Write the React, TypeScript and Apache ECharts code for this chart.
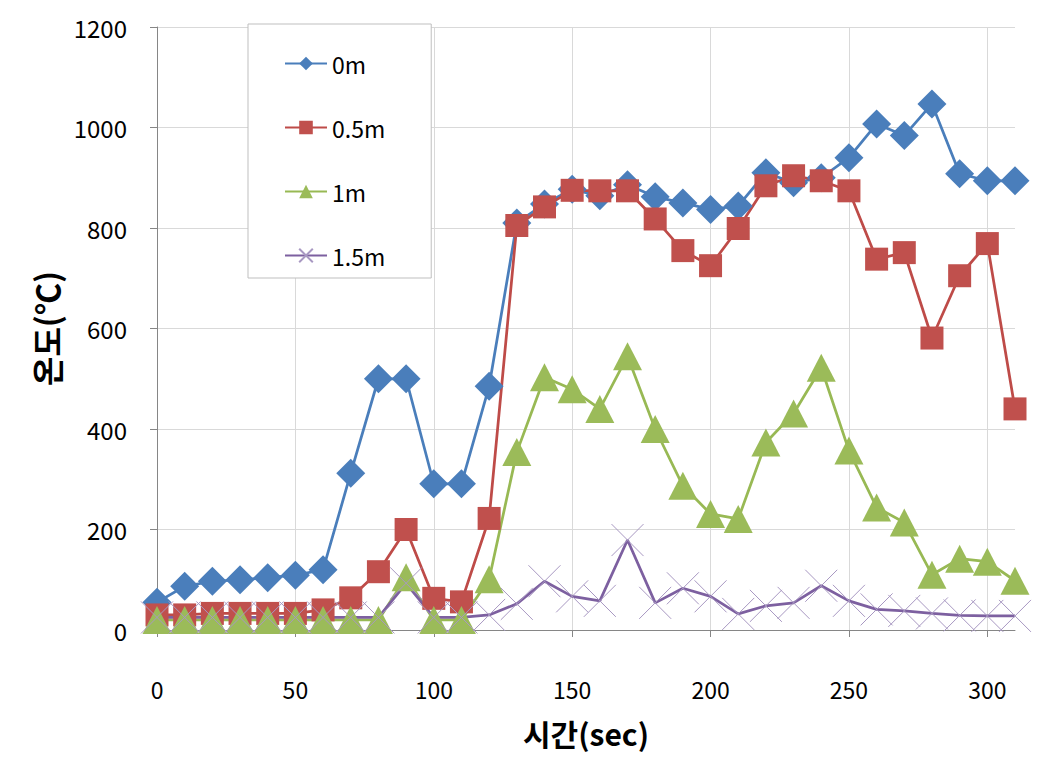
import React, { useEffect, useRef } from "react";
import * as echarts from "echarts";

const times = [0,10,20,30,40,50,60,70,80,90,100,110,120,130,140,150,160,170,180,190,200,210,220,230,240,250,260,270,280,290,300,310];
const s0m = [55,87,97,100,104,109,120,312,500,500,291,291,485,810,848,877,864,886,862,850,837,844,910,890,900,940,1007,984,1047,908,894,894];
const s05m = [30,30,33,33,33,33,40,64,116,200,63,56,222,805,842,875,874,874,818,755,725,799,884,904,894,874,738,751,581,705,769,440];
const s1m = [20,20,20,20,20,20,20,20,20,105,20,20,101,354,503,479,440,545,400,287,231,221,373,431,522,357,244,214,110,142,136,98];
const s15m = [25,25,25,25,25,25,25,25,25,93,25,25,30,52,97,67,58,179,54,83,67,32,48,54,88,58,41,38,33,29,28,28];
const seriesNames = ["0m", "0.5m", "1m", "1.5m"];
const xTicks = [0,50,100,150,200,250,300];

const FONT = "'Noto Sans CJK KR', 'Noto Sans', sans-serif";

export default function App() {
  const ref = useRef<HTMLDivElement>(null);
  useEffect(() => {
    if (!ref.current) return;
    const chart = echarts.init(ref.current, null, { renderer: "svg" });
    const pair = (arr: number[]) => times.map((t, i) => [t, arr[i]]);
    chart.setOption({
      animation: false,
      backgroundColor: "#ffffff",
      grid: { left: 157, top: 27, width: 858, height: 603 },
      legend: {
        orient: "vertical",
        left: 248,
        top: 24,
        padding: [28, 46, 11, 36],
        itemGap: 41,
        itemWidth: 42,
        itemHeight: 17,
        backgroundColor: "#ffffff",
        borderColor: "#BFBFBF",
        borderWidth: 1,
        textStyle: { fontFamily: FONT, fontSize: 23, color: "#000" },
        data: seriesNames,
      },
      xAxis: {
        type: "value",
        min: 0,
        max: 310,
        interval: 50,
        name: "시간(sec)",
        nameLocation: "middle",
        nameGap: 88,
        nameTextStyle: { fontFamily: FONT, fontSize: 30, fontWeight: "bold", color: "#000" },
        axisLine: { lineStyle: { color: "#868686", width: 1 } },
        axisTick: { show: true, length: 7, lineStyle: { color: "#868686" }, customValues: xTicks },
        axisLabel: { fontFamily: FONT, fontSize: 23, color: "#000", margin: 47, customValues: xTicks },
        splitLine: {
          show: true,
          lineStyle: {
            color: ["#D9D9D9", "#D9D9D9", "#D9D9D9", "#D9D9D9", "#D9D9D9", "#D9D9D9", "#D9D9D9", "rgba(0,0,0,0)"],
            width: 1,
          },
        },
      },
      yAxis: {
        type: "value",
        min: 0,
        max: 1200,
        interval: 200,
        name: "온도(℃)",
        nameLocation: "middle",
        nameGap: 95,
        nameRotate: 90,
        nameTextStyle: { fontFamily: FONT, fontSize: 32, fontWeight: "bold", color: "#000" },
        axisLine: { show: true, lineStyle: { color: "#868686", width: 1 } },
        axisTick: { show: true, length: 7, lineStyle: { color: "#868686" } },
        axisLabel: { fontFamily: FONT, fontSize: 24, color: "#000", margin: 30, formatter: (v: number) => String(v) },
        splitLine: { show: true, lineStyle: { color: "#D9D9D9", width: 1 } },
      },
      series: [
        {
          name: seriesNames[0],
          type: "line",
          data: pair(s0m),
          symbol: "diamond",
          symbolSize: 29,
          itemStyle: { color: "#4A7EBB" },
          lineStyle: { color: "#4A7EBB", width: 2.75 },
        },
        {
          name: seriesNames[1],
          type: "line",
          data: pair(s05m),
          symbol: "rect",
          symbolSize: 23,
          itemStyle: { color: "#C0504D" },
          lineStyle: { color: "#BE4B48", width: 2.75 },
        },
        {
          name: seriesNames[2],
          type: "line",
          data: pair(s1m),
          symbol: "triangle",
          symbolSize: [29, 28],
          itemStyle: { color: "#9BBB59" },
          lineStyle: { color: "#98B954", width: 2.75 },
        },
        {
          name: seriesNames[3],
          type: "line",
          data: pair(s15m),
          symbol: "path://M0,0L10,10M10,0L0,10",
          symbolSize: 32,
          itemStyle: { color: "rgba(0,0,0,0)", borderColor: "#A898C2", borderWidth: 1 },
          lineStyle: { color: "#7D60A0", width: 2.75 },
        },
      ],
    });
    return () => chart.dispose();
  }, []);
  return (
    <div
      ref={ref}
      style={{ position: "fixed", left: 0, top: 0, width: 1064, height: 761 }}
    />
  );
}
